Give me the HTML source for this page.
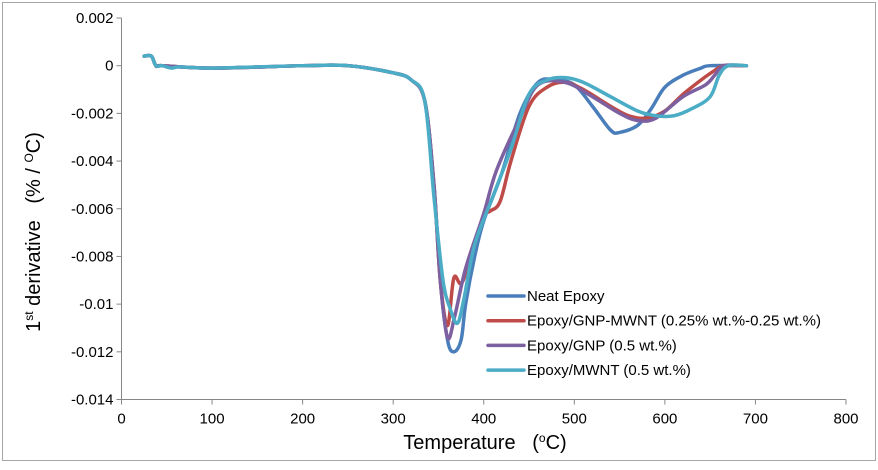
<!DOCTYPE html>
<html><head><meta charset="utf-8"><style>
body{margin:0;background:#fff}
svg text{font-family:"Liberation Sans",sans-serif;fill:#000;white-space:pre}
</style></head><body>
<svg id="chart" width="878" height="465" xmlns="http://www.w3.org/2000/svg">
<rect x="2.5" y="2.5" width="873" height="458" fill="#fff" stroke="#a6a6a6"/>
<g id="axes"></g>
<g id="series"></g>
<text x="485" y="449" text-anchor="middle" font-size="20">Temperature&#160;&#160; (<tspan font-size="12" dy="-7">o</tspan><tspan dy="7">C)</tspan></text>
<text transform="translate(40,232) rotate(-90)" text-anchor="middle" font-size="20">1<tspan font-size="12" dy="-7">st</tspan><tspan dy="7"> derivative&#160;&#160; (% / </tspan><tspan font-size="12" dy="-7">O</tspan><tspan dy="7">C)</tspan></text>
<g id="legend"></g>
</svg>
<script>
const xTicks=[0,100,200,300,400,500,600,700,800];
const yTicks=[0.002,0,-0.002,-0.004,-0.006,-0.008,-0.01,-0.012,-0.014];
const yTickLabels=["0.002","0","-0.002","-0.004","-0.006","-0.008","-0.01","-0.012","-0.014"];
const seriesNames=["Neat Epoxy","Epoxy/GNP-MWNT (0.25% wt.%-0.25 wt.%)","Epoxy/GNP (0.5 wt.%)","Epoxy/MWNT (0.5 wt.%)"];
const seriesColors=["#4a7ebb","#be4b48","#7d60a0","#4bacc6"];
const neatT=[25,33,38,45,100,200,250,300,320,335,345,352,360,367,375,380,390,400,420,440,460,480,500,520,540,550,570,585,600,620,640,650,690];
const neatV=[0.0004,0.0004,0,0,-0.0001,0,0,-0.0003,-0.0006,-0.0015,-0.005,-0.009,-0.0115,-0.012,-0.0115,-0.01,-0.008,-0.0065,-0.0045,-0.002,-0.0007,-0.0006,-0.0008,-0.0017,-0.0027,-0.0028,-0.0025,-0.0018,-0.0009,-0.0004,-0.0001,0,0];
const gmT=[25,33,38,45,100,200,250,300,320,335,345,352,360,367,376,390,400,407,418,430,450,470,490,510,540,560,580,600,620,640,655,665,690];
const gmV=[0.0004,0.0004,0,0,-0.0001,0,0,-0.0003,-0.0006,-0.0015,-0.005,-0.009,-0.0109,-0.0089,-0.0091,-0.0075,-0.0063,-0.0061,-0.0057,-0.004,-0.0017,-0.0009,-0.0007,-0.001,-0.0017,-0.0021,-0.0022,-0.0019,-0.0012,-0.0006,-0.0002,0,0];
const gnpT=[25,33,38,45,100,200,250,300,320,335,345,352,360,368,380,400,414,440,460,490,520,550,570,590,620,645,655,665,690];
const gnpV=[0.0004,0.0004,0,0,-0.0001,0,0,-0.0003,-0.0006,-0.0015,-0.005,-0.009,-0.0114,-0.0105,-0.0085,-0.0062,-0.0044,-0.0022,-0.0008,-0.0007,-0.0013,-0.002,-0.0023,-0.0022,-0.0013,-0.0008,-0.0004,0,0];
const mwT=[25,33,38,45,55,65,100,200,250,300,320,335,345,355,363,371,378,390,410,430,450,470,490,510,540,570,590,610,630,650,660,670,690];
const mwV=[0.0004,0.0004,0,0,-0.0001,-0.00005,-0.0001,0,0,-0.0003,-0.0006,-0.0015,-0.0055,-0.009,-0.0102,-0.0108,-0.0098,-0.0075,-0.0055,-0.0035,-0.0012,-0.0006,-0.0005,-0.0007,-0.0013,-0.0019,-0.0021,-0.0021,-0.0018,-0.0013,-0.0004,0,0];
const seriesT=[neatT,gmT,gnpT,mwT];
const seriesV=[neatV,gmV,gnpV,mwV];
const NS="http://www.w3.org/2000/svg";
const X0=121.5,X1=846,Y0=18,Y1=399.5;
const xs=t=>X0+(t-0)/(800)*(X1-X0);
const ys=v=>Y0+(0.002-v)/(0.016)*(Y1-Y0);
function mk(tag,attrs,parent){const e=document.createElementNS(NS,tag);for(const k in attrs)e.setAttribute(k,attrs[k]);parent.appendChild(e);return e;}
const axes=document.getElementById('axes');
let yl=mk('line',{x1:X0,y1:Y0,x2:X0,y2:Y1,stroke:'#868686'},axes);


let xl=mk('line',{x1:X0,y1:Y1,x2:X1,y2:Y1,stroke:'#868686'},axes);


yTicks.forEach((v,i)=>{
  mk('line',{x1:X0-5,y1:ys(v),x2:X0,y2:ys(v),stroke:'#868686'},axes);
  const t=mk('text',{x:X0-8,y:ys(v)+5,'text-anchor':'end','font-size':'15'},axes);
  t.textContent=yTickLabels[i];
  
  
});
xTicks.forEach(v=>{
  mk('line',{x1:xs(v),y1:Y1,x2:xs(v),y2:Y1+5,stroke:'#868686'},axes);
  const t=mk('text',{x:xs(v),y:Y1+24,'text-anchor':'middle','font-size':'15'},axes);
  t.textContent=String(v);
  
  
});
function smooth(pts){
  let d=`M${pts[0][0]},${pts[0][1]}`;
  for(let i=0;i<pts.length-1;i++){
    const p0=pts[Math.max(0,i-1)],p1=pts[i],p2=pts[i+1],p3=pts[Math.min(pts.length-1,i+2)];
    const k=1/6;
    d+=` C${p1[0]+(p2[0]-p0[0])*k},${p1[1]+(p2[1]-p0[1])*k} ${p2[0]-(p3[0]-p1[0])*k},${p2[1]-(p3[1]-p1[1])*k} ${p2[0]},${p2[1]}`;
  }
  return d;
}
const sg=document.getElementById('series');
const names=['series-neat-epoxy','series-gnp-mwnt','series-gnp','series-mwnt'];
seriesT.forEach((T,si)=>{
  const pts=T.map((t,i)=>[xs(t),ys(seriesV[si][i])]);
  const p=mk('path',{d:smooth(pts),fill:'none',stroke:seriesColors[si],'stroke-width':'3.5','stroke-linejoin':'round','stroke-linecap':'round'},sg);
  
  
});
const lg=document.getElementById('legend');
seriesNames.forEach((n,i)=>{
  const y=296+i*24.7;
  const g=mk('g',{},lg);
  
  
  mk('line',{x1:488,y1:y,x2:524,y2:y,stroke:seriesColors[i],'stroke-width':'3.5','stroke-linecap':'round'},g);
  const t=mk('text',{x:527,y:y+5,'font-size':'15'},g);
  t.textContent=n;
});
</script>
</body></html>
